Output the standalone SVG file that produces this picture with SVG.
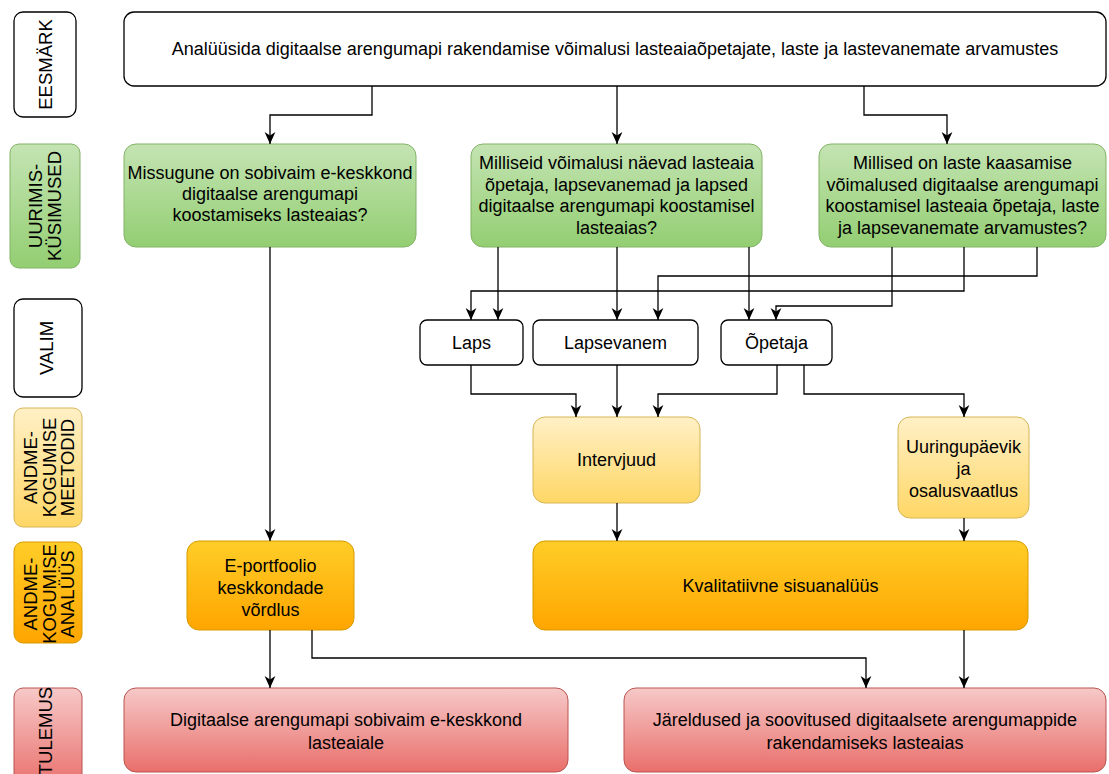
<svg xmlns="http://www.w3.org/2000/svg" width="1109" height="774" viewBox="0 0 1109 774">
<defs>
<linearGradient id="gGreen" x1="0" y1="0" x2="0" y2="1"><stop offset="0" stop-color="#c4e4b3"/><stop offset="1" stop-color="#93ce72"/></linearGradient>
<linearGradient id="gYellow" x1="0" y1="0" x2="0" y2="1"><stop offset="0" stop-color="#fff0c6"/><stop offset="1" stop-color="#ffd766"/></linearGradient>
<linearGradient id="gOrange" x1="0" y1="0" x2="0" y2="1"><stop offset="0" stop-color="#ffcd28"/><stop offset="1" stop-color="#ffa500"/></linearGradient>
<linearGradient id="gRed" x1="0" y1="0" x2="0" y2="1"><stop offset="0" stop-color="#f6c9c8"/><stop offset="1" stop-color="#e96f6b"/></linearGradient>
<marker id="arr" markerUnits="userSpaceOnUse" markerWidth="12" markerHeight="12" refX="10" refY="5" orient="auto" viewBox="0 0 10 10">
<path d="M0,0.5 L10,5 L0,9.5 L3,5 Z" fill="#000"/>
</marker>
</defs>
<style>
text{font-family:"Liberation Sans",Arial,Helvetica,sans-serif;font-size:18px;fill:#000;text-anchor:middle}
.lbl{font-size:18.5px}
.white{fill:#fff;stroke:#000;stroke-width:1.3}
.green{fill:url(#gGreen);stroke:#82b366;stroke-width:1}
.yellow{fill:url(#gYellow);stroke:#d6b656;stroke-width:1}
.orange{fill:url(#gOrange);stroke:#d79b00;stroke-width:1}
.red{fill:url(#gRed);stroke:#b85450;stroke-width:1}
.conn path{fill:none;stroke:#000;stroke-width:1.3;marker-end:url(#arr)}
</style>

<!-- left column labels -->
<g id="lbl-eesmark"><rect class="white" x="14" y="12" width="62" height="105" rx="9"/>
<text class="lbl" transform="translate(45,64.5) rotate(-90)"><tspan x="0" y="6.5">EESMÄRK</tspan></text></g>
<g id="lbl-uurimis"><rect class="green" x="10" y="144" width="70" height="124" rx="9"/>
<text class="lbl" transform="translate(45,206) rotate(-90)"><tspan x="0" y="-3">UURIMIS-</tspan><tspan x="0" y="16">KÜSIMUSED</tspan></text></g>
<g id="lbl-valim"><rect class="white" x="14" y="299" width="68" height="98" rx="9"/>
<text class="lbl" transform="translate(46,348) rotate(-90)"><tspan x="0" y="6.5">VALIM</tspan></text></g>
<g id="lbl-meetodid"><rect class="yellow" x="14" y="408" width="68" height="119" rx="9"/>
<text class="lbl" transform="translate(48,467.5) rotate(-90)"><tspan x="0" y="-11">ANDME-</tspan><tspan x="0" y="7.5">KOGUMISE</tspan><tspan x="0" y="26">MEETODID</tspan></text></g>
<g id="lbl-analyys"><rect class="orange" x="14" y="542" width="68" height="101" rx="9"/>
<text class="lbl" transform="translate(48,594) rotate(-90)"><tspan x="0" y="-11">ANDME-</tspan><tspan x="0" y="7.5">KOGUMISE</tspan><tspan x="0" y="26">ANALÜÜS</tspan></text></g>
<g id="lbl-tulemus"><rect class="red" x="14" y="688" width="68" height="100" rx="9"/>
<text class="lbl" transform="translate(45,731) rotate(-90)"><tspan x="0" y="6.5">TULEMUS</tspan></text></g>

<!-- main nodes -->
<g id="goal"><rect class="white" x="124" y="12" width="982" height="74" rx="10"/>
<text x="615" y="55">Analüüsida digitaalse arengumapi rakendamise võimalusi lasteaiaõpetajate, laste ja lastevanemate arvamustes</text></g>

<g id="q1"><rect class="green" x="124" y="144" width="292" height="103" rx="12"/>
<text><tspan x="270" y="179">Missugune on sobivaim e-keskkond</tspan><tspan x="270" y="200">digitaalse arengumapi</tspan><tspan x="270" y="221">koostamiseks lasteaias?</tspan></text></g>
<g id="q2"><rect class="green" x="471" y="144" width="291" height="103" rx="12"/>
<text><tspan x="616.5" y="169">Milliseid võimalusi näevad lasteaia</tspan><tspan x="616.5" y="190.5">õpetaja, lapsevanemad ja lapsed</tspan><tspan x="616.5" y="212">digitaalse arengumapi koostamisel</tspan><tspan x="616.5" y="233.5">lasteaias?</tspan></text></g>
<g id="q3"><rect class="green" x="819" y="144" width="287" height="103" rx="12"/>
<text><tspan x="962.5" y="169">Millised on laste kaasamise</tspan><tspan x="962.5" y="190.5">võimalused digitaalse arengumapi</tspan><tspan x="962.5" y="212">koostamisel lasteaia õpetaja, laste</tspan><tspan x="962.5" y="233.5">ja lapsevanemate arvamustes?</tspan></text></g>

<g id="laps"><rect class="white" x="420" y="320" width="103" height="45" rx="7"/><text x="471.5" y="349">Laps</text></g>
<g id="lapsevanem"><rect class="white" x="533" y="320" width="165" height="45" rx="7"/><text x="615.5" y="349">Lapsevanem</text></g>
<g id="opetaja"><rect class="white" x="721" y="320" width="111" height="45" rx="7"/><text x="776.5" y="349">Õpetaja</text></g>

<g id="intervjuud"><rect class="yellow" x="533" y="417" width="167" height="86" rx="12"/><text x="616.5" y="466">Intervjuud</text></g>
<g id="uuringupaevik"><rect class="yellow" x="898" y="417" width="131" height="101" rx="12"/>
<text><tspan x="963.5" y="452.5">Uuringupäevik</tspan><tspan x="963.5" y="474.5">ja</tspan><tspan x="963.5" y="496.5">osalusvaatlus</tspan></text></g>

<g id="eportfoolio"><rect class="orange" x="187" y="541" width="167" height="89" rx="12"/>
<text><tspan x="270.5" y="571.5">E-portfoolio</tspan><tspan x="270.5" y="593.5">keskkondade</tspan><tspan x="270.5" y="615.5">võrdlus</tspan></text></g>
<g id="kvalitatiivne"><rect class="orange" x="533" y="541" width="495" height="89" rx="12"/><text x="780.5" y="592">Kvalitatiivne sisuanalüüs</text></g>

<g id="digitaalse"><rect class="red" x="124" y="688" width="444" height="84" rx="12"/>
<text><tspan x="346" y="726">Digitaalse arengumapi sobivaim e-keskkond</tspan><tspan x="346" y="749">lasteaiale</tspan></text></g>
<g id="jareldused"><rect class="red" x="624" y="688" width="482" height="84" rx="12"/>
<text><tspan x="865" y="726">Järeldused ja soovitused digitaalsete arengumappide</tspan><tspan x="865" y="749">rakendamiseks lasteaias</tspan></text></g>

<g id="connectors" class="conn">
<path d="M372,86 V115 H270 V144"/>
<path d="M617,86 V144"/>
<path d="M864,86 V115 H947 V144"/>
<path d="M270,247 V541"/>
<path d="M498,247 V320"/>
<path d="M617,247 V320"/>
<path d="M749,247 V320"/>
<path d="M964,247 V291 H471 V320"/>
<path d="M1037,247 V276 H658 V320"/>
<path d="M892,247 V306 H776 V320"/>
<path d="M471,365 V394 H576 V417"/>
<path d="M617,365 V417"/>
<path d="M777,365 V394 H658 V417"/>
<path d="M804,365 V394 H964 V417"/>
<path d="M617,503 V541"/>
<path d="M964,518 V541"/>
<path d="M270,630 V688"/>
<path d="M312,630 V658 H866 V688"/>
<path d="M964,630 V688"/>
</g>
</svg>
